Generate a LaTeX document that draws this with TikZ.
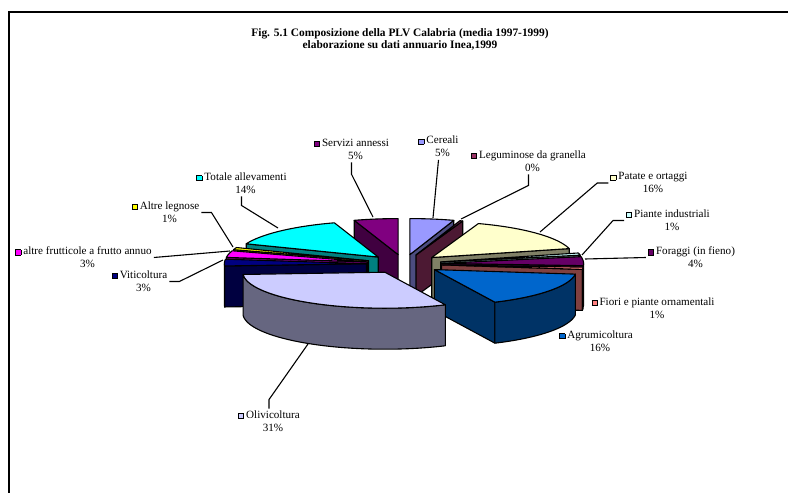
\documentclass[tikz,border=0pt]{standalone}
\usepackage{fontspec}
\setmainfont{Liberation Serif}
\usepackage{xcolor}
\usepackage{tikz}
\usetikzlibrary{calc}
\definecolor{cereali}{HTML}{9999FF}
\definecolor{legumi}{HTML}{993366}
\definecolor{patate}{HTML}{FFFFCC}
\definecolor{piante}{HTML}{CCFFFF}
\definecolor{foraggi}{HTML}{660066}
\definecolor{fiori}{HTML}{FF8080}
\definecolor{agrumi}{HTML}{0066CC}
\definecolor{olivi}{HTML}{CCCCFF}
\definecolor{viti}{HTML}{000080}
\definecolor{frutt}{HTML}{FF00FF}
\definecolor{legnose}{HTML}{FFFF00}
\definecolor{allev}{HTML}{00FFFF}
\definecolor{servizi}{HTML}{800080}
\tikzstyle{pieedge} = [draw=black, line width=1.1pt, line join=round]
\tikzstyle{lbl} = [align=center, inner sep=2pt, font=\fontsize{11.1}{13}\selectfont]
\tikzstyle{leader} = [draw=black, line width=1.1pt]
\tikzstyle{title} = [align=center, inner sep=0pt, font=\bfseries\fontsize{11.4}{12}\selectfont]
% pie geometry (pixels, y downwards)
\newcommand{\pieX}{404}
\newcommand{\pieY}{264}
\newcommand{\pieRx}{142}
\newcommand{\pieRy}{36}
\newcommand{\pieH}{41}
\newcommand{\pieE}{0.265}
% legend marker
\newcommand{\mk}[1]{{\fboxsep=0pt\fboxrule=0.8pt\fcolorbox{black}{#1}{\rule{0pt}{4.4pt}\rule{4.4pt}{0pt}}}\kern2pt}
% one exploded slice: start angle, end angle, colour
\newcommand{\pieslice}[3]{%
  \pgfmathsetmacro\pmid{(#1+#2)/2}%
  \pgfmathsetmacro\pcx{\pieX+\pieE*\pieRx*cos(\pmid)}%
  \pgfmathsetmacro\pcy{\pieY-\pieE*\pieRy*sin(\pmid)}%
  \pgfmathtruncatemacro\pshowA{cos(#1)<0}%
  \pgfmathtruncatemacro\pshowB{cos(#2)>0}%
  \pgfmathsetmacro\pclo{max(#2,-180)}%
  \pgfmathsetmacro\pchi{min(#1,0)}%
  \pgfmathtruncatemacro\pshowC{\pchi>\pclo}%
  \ifnum\pshowA=1
    \filldraw[pieedge, fill=#3!50!black] (\pcx,\pcy) -- ({\pcx+\pieRx*cos(#1)},{\pcy-\pieRy*sin(#1)}) -- ++(0,\pieH) -- (\pcx,{\pcy+\pieH}) -- cycle;
  \fi
  \ifnum\pshowB=1
    \filldraw[pieedge, fill=#3!50!black] (\pcx,\pcy) -- ({\pcx+\pieRx*cos(#2)},{\pcy-\pieRy*sin(#2)}) -- ++(0,\pieH) -- (\pcx,{\pcy+\pieH}) -- cycle;
  \fi
  \ifnum\pshowC=1
    \filldraw[pieedge, fill=#3!50!black] plot[domain=\pchi:\pclo, samples=30, variable=\ang] ({\pcx+\pieRx*cos(\ang)},{\pcy-\pieRy*sin(\ang)}) -- plot[domain=\pclo:\pchi, samples=30, variable=\ang] ({\pcx+\pieRx*cos(\ang)},{\pcy+\pieH-\pieRy*sin(\ang)}) -- cycle;
  \fi
  \filldraw[pieedge, fill=#3] (\pcx,\pcy) -- plot[domain=#1:#2, samples=40, variable=\ang] ({\pcx+\pieRx*cos(\ang)},{\pcy-\pieRy*sin(\ang)}) -- cycle;
}

\begin{document}
\begin{tikzpicture}[x=1pt, y=-1pt]
    \useasboundingbox (0,0) rectangle (788,493);
    % frame
    \draw[line width=1.7pt] (9,493) -- (9,12.3) -- (788,12.3);

    % title
    \node[title] (title) at (400,39) {Fig. 5.1 Composizione della PLV Calabria (media 1997-1999)\\elaborazione su dati annuario Inea,1999};

    % slices, back to front
    \pieslice{90}{72}{cereali}
    \pieslice{-252}{-270}{servizi}
    \pieslice{72}{70.8}{legumi}
    \pieslice{-201.6}{-252}{allev}
    \pieslice{70.8}{14.4}{patate}
    \pieslice{-198}{-201.6}{legnose}
    \pieslice{14.4}{10.8}{piante}
    \pieslice{-187.2}{-198}{frutt}
    \pieslice{10.8}{-3.6}{foraggi}
    \pieslice{-176.4}{-187.2}{viti}
    \pieslice{-3.6}{-7.2}{fiori}
    \pieslice{-7.2}{-64.8}{agrumi}
    \pieslice{-64.8}{-176.4}{olivi}

    % leader ends on the pie
    \coordinate (p-servizi) at (373,217);
    \coordinate (p-cereali) at (433,218);
    \coordinate (p-legumi) at (461,219);
    \coordinate (p-patate) at (540,232);
    \coordinate (p-piante) at (582,255);
    \coordinate (p-foraggi) at (585,259);
    \coordinate (p-olivi) at (308,344);
    \coordinate (p-viti) at (223,260);
    \coordinate (p-frutt) at (230,251);
    \coordinate (p-legnose) at (233,247);
    \coordinate (p-allev) at (278,228);

    % labels
    \node[lbl] (servizi) at (351.5,149.5) {\mk{servizi}Servizi annessi\\\phantom{\mk{servizi}}5\%};
    \node[lbl] (cereali) at (438.5,147) {\mk{cereali}Cereali\\\phantom{\mk{cereali}}5\%};
    \node[lbl] (legumi) at (528.5,161.5) {\mk{legumi}Leguminose da granella\\\phantom{\mk{legumi}}0\%};
    \node[lbl] (patate) at (649,183) {\mk{patate}Patate e ortaggi\\\phantom{\mk{patate}}16\%};
    \node[lbl] (piante) at (668,220.5) {\mk{piante}Piante industriali\\\phantom{\mk{piante}}1\%};
    \node[lbl] (foraggi) at (691.5,257.5) {\mk{foraggi}Foraggi (in fieno)\\\phantom{\mk{foraggi}}4\%};
    \node[lbl] (fiori) at (653,308.5) {\mk{fiori}Fiori e piante ornamentali\\\phantom{\mk{fiori}}1\%};
    \node[lbl] (agrumi) at (596,341.5) {\mk{agrumi}Agrumicoltura\\\phantom{\mk{agrumi}}16\%};
    \node[lbl] (olivi) at (269,421.5) {\mk{olivi}Olivicoltura\\\phantom{\mk{olivi}}31\%};
    \node[lbl] (viti) at (139.5,281.5) {\mk{viti}Viticoltura\\\phantom{\mk{viti}}3\%};
    \node[lbl] (frutt) at (83.5,257.5) {\mk{frutt}altre frutticole a frutto annuo\\\phantom{\mk{frutt}}3\%};
    \node[lbl] (legnose) at (165.5,212.5) {\mk{legnose}Altre legnose\\\phantom{\mk{legnose}}1\%};
    \node[lbl] (allev) at (241.5,183.5) {\mk{allev}Totale allevamenti\\\phantom{\mk{allev}}14\%};

    % leader lines
    \draw[leader] (servizi.south) -- ++(0,12) -- (p-servizi);
    \draw[leader] (cereali.south) -- (p-cereali);
    \draw[leader] (legumi.south) -- ++(0,11) -- (p-legumi);
    \draw[leader] (patate.west) -- ++(-11,0) -- (p-patate);
    \draw[leader] (piante.west) -- ++(-11,0) -- (p-piante);
    \draw[leader] (foraggi.west) -- (p-foraggi);
    \draw[leader] (olivi.north) -- ++(0,-9) -- (p-olivi);
    \draw[leader] (viti.east) -- ++(10,0) -- (p-viti);
    \draw[leader] (frutt.east) -- (p-frutt);
    \draw[leader] (legnose.east) -- ++(10,0) -- (p-legnose);
    \draw[leader] (allev.south) -- ++(0,9) -- (p-allev);
\end{tikzpicture}
\end{document}
